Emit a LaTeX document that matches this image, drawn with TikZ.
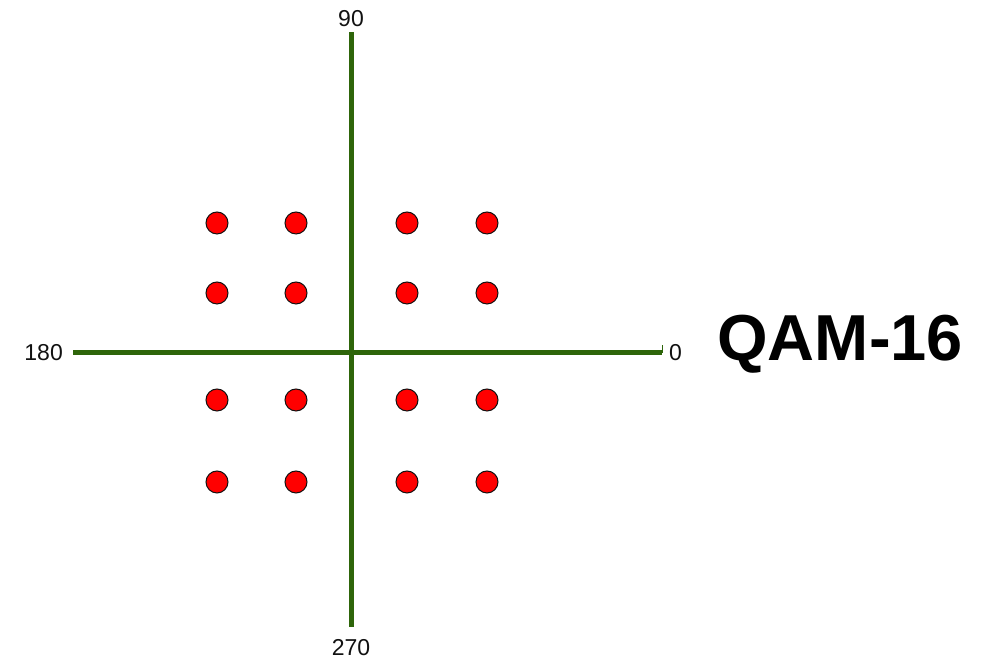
\documentclass[tikz,border=0pt]{standalone}
\usepackage{fontspec}
\setmainfont{Liberation Sans}
\usepackage{tikz}
\usetikzlibrary{positioning}
\definecolor{qamAxis}{HTML}{2E650A}
\definecolor{qamRed}{HTML}{FF0000}
\definecolor{qamInk}{HTML}{111111}

\begin{document}
\begin{tikzpicture}[
  x=1pt,y=1pt,
  font=\fontsize{23}{26}\selectfont,
  axisline/.style ={draw=qamAxis,line width=5pt},
  symdot/.style   ={circle,draw=qamInk,line width=1pt,fill=qamRed,minimum size=22pt,inner sep=0pt},
  axlabel/.style  ={inner sep=1pt,text=qamInk},
  titletext/.style={inner sep=1pt,font=\fontsize{65}{72}\selectfont\bfseries}
]
\useasboundingbox (0,0) rectangle (990,660);

% axis ends
\coordinate (n) at (351,628);
\coordinate (s) at (351,33);
\coordinate (w) at (73,307);
\coordinate (e) at (662,307);

% axes
\draw[axisline] (w) -- (e);
\draw[axisline] (s) -- (n);
\draw[draw=qamAxis,line width=1pt] (e) -- ++(0,8);

% angle labels
\node[axlabel,above=4pt of n]  (a90)  {90};
\node[axlabel,below=11pt of s] (a270) {270};
\node[axlabel,left=9pt of w]   (a180) {180};
\node[axlabel,right=6pt of e]  (a0)   {0};

% title
\node[titletext,right=33pt of a0.base east,anchor=base west] (title) {QAM-16};

% constellation points
\node[symdot] (p11) at (217,437) {};
\node[symdot] (p12) at (296,437) {};
\node[symdot] (p13) at (407,437) {};
\node[symdot] (p14) at (487,437) {};
\node[symdot] (p21) at (217,367) {};
\node[symdot] (p22) at (296,367) {};
\node[symdot] (p23) at (407,367) {};
\node[symdot] (p24) at (487,367) {};
\node[symdot] (p31) at (217,260) {};
\node[symdot] (p32) at (296,260) {};
\node[symdot] (p33) at (407,260) {};
\node[symdot] (p34) at (487,260) {};
\node[symdot] (p41) at (217,178) {};
\node[symdot] (p42) at (296,178) {};
\node[symdot] (p43) at (407,178) {};
\node[symdot] (p44) at (487,178) {};
\end{tikzpicture}
\end{document}
